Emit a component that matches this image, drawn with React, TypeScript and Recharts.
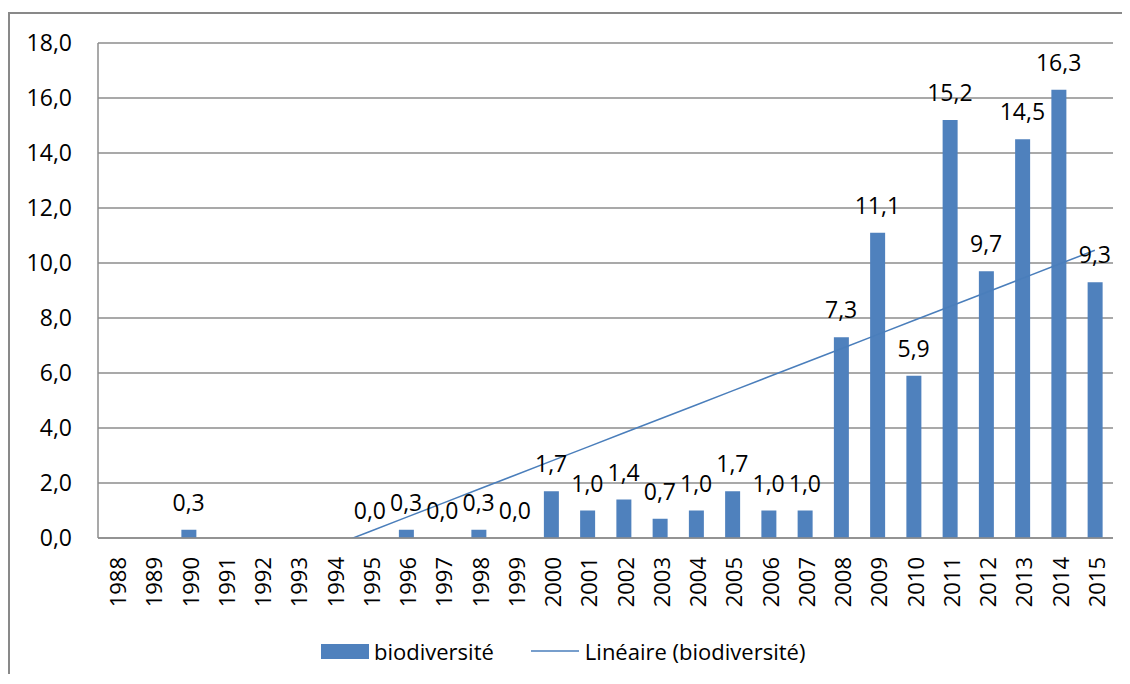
import React from 'react';
import {
  ComposedChart,
  Bar,
  Line,
  XAxis,
  YAxis,
  CartesianGrid,
  LabelList,
  Legend,
} from 'recharts';

const FONT = '"Open Sans", "DejaVu Sans", sans-serif';
const BAR_COLOR = '#4F81BD';
const LINE_COLOR = '#4A7EBB';
const GRID_COLOR = '#8C8C8C';
const NUM_SIZE = 23;

const years = [
  '1988', '1989', '1990', '1991', '1992', '1993', '1994', '1995', '1996', '1997',
  '1998', '1999', '2000', '2001', '2002', '2003', '2004', '2005', '2006', '2007',
  '2008', '2009', '2010', '2011', '2012', '2013', '2014', '2015',
];

const biodiversite: (number | null)[] = [
  null, null, 0.3, null, null, null, null, 0.0, 0.3, 0.0,
  0.3, 0.0, 1.7, 1.0, 1.4, 0.7, 1.0, 1.7, 1.0, 1.0,
  7.3, 11.1, 5.9, 15.2, 9.7, 14.5, 16.3, 9.3,
];

const yTicks = [0, 2, 4, 6, 8, 10, 12, 14, 16, 18];

// Linear trend line (least squares, x = 1..n, blanks counted as zero, like the spreadsheet)
const n = years.length;
const xs = years.map((_, i) => i + 1);
const ys = biodiversite.map((v) => (v == null ? 0 : v));
const meanX = xs.reduce((a, b) => a + b, 0) / n;
const meanY = ys.reduce((a, b) => a + b, 0) / n;
const sxy = xs.reduce((acc, x, i) => acc + (x - meanX) * (ys[i] - meanY), 0);
const sxx = xs.reduce((acc, x) => acc + (x - meanX) * (x - meanX), 0);
const slope = sxy / sxx;
const intercept = meanY - slope * meanX;

const data = years.map((year, i) => ({
  year,
  value: biodiversite[i],
  trend: slope * xs[i] + intercept,
}));

const fmt = (v: number) => v.toFixed(1).replace('.', ',');

const XTick = (props: any) => {
  const { x, y, payload } = props;
  const ty = y + 19;
  return (
    <text
      x={x + 1}
      y={ty}
      transform={`rotate(-90 ${x + 1} ${ty})`}
      textAnchor="end"
      dominantBaseline="central"
      fontFamily={FONT}
      fontSize={22}
      fill="#000"
    >
      {payload.value}
    </text>
  );
};

const PointLabel = (props: any) => {
  const { x, y, value } = props;
  if (value == null || x == null || y == null) return null;
  return (
    <text
      x={x}
      y={y - 19}
      textAnchor="middle"
      fontFamily={FONT}
      fontSize={NUM_SIZE}
      fill="#000"
    >
      {fmt(Number(value))}
    </text>
  );
};

const renderLegend = () => (
  <div style={{ height: 64, position: 'relative', fontFamily: FONT, fontSize: 22, color: '#000' }}>
    <div
      style={{
        position: 'absolute',
        top: 26,
        left: 311,
        display: 'flex',
        alignItems: 'center',
        height: 30,
        whiteSpace: 'nowrap',
      }}
    >
      <span style={{ display: 'inline-block', width: 48, height: 15, background: BAR_COLOR }} />
      <span style={{ marginLeft: 5, lineHeight: '30px' }}>biodiversité</span>
      <svg width={48} height={6} style={{ marginLeft: 37 }}>
        <line x1={0} y1={3} x2={48} y2={3} stroke={LINE_COLOR} strokeWidth={1.5} />
      </svg>
      <span style={{ marginLeft: 6, lineHeight: '30px' }}>Linéaire (biodiversité)</span>
    </div>
  </div>
);

export default function App() {
  return (
    <div style={{ paddingTop: 4 }}>
      <div
        style={{
          borderTop: '2px solid #898989',
          borderLeft: '2px solid #898989',
          width: 1112,
          height: 660,
          background: '#fff',
        }}
      >
        <ComposedChart
          width={1112}
          height={660}
          data={data}
          margin={{ top: 29, right: 9, left: 0, bottom: 0 }}
          barCategoryGap="30%"
        >
          <CartesianGrid vertical={false} stroke={GRID_COLOR} strokeWidth={1.5} />
          <XAxis
            dataKey="year"
            interval={0}
            height={72}
            tickLine={false}
            tickSize={0}
            tickMargin={0}
            axisLine={{ stroke: GRID_COLOR, strokeWidth: 1.5 }}
            tick={<XTick />}
          />
          <YAxis
            width={88}
            domain={[0, 18]}
            allowDataOverflow
            ticks={yTicks}
            interval={0}
            tickLine={false}
            tickSize={0}
            tickMargin={26}
            axisLine={{ stroke: GRID_COLOR, strokeWidth: 1.5 }}
            tickFormatter={fmt}
            tick={{ fontFamily: FONT, fontSize: NUM_SIZE, fill: '#000' }}
          />
          <Legend verticalAlign="bottom" content={renderLegend} wrapperStyle={{ left: 0, width: 1112 }} />
          <Bar dataKey="value" name="biodiversité" fill={BAR_COLOR} isAnimationActive={false} />
          <Line
            dataKey="trend"
            name="Linéaire (biodiversité)"
            stroke={LINE_COLOR}
            strokeWidth={1.5}
            dot={false}
            activeDot={false}
            type="linear"
            isAnimationActive={false}
          />
          <Line
            dataKey="value"
            legendType="none"
            stroke="none"
            dot={false}
            activeDot={false}
            isAnimationActive={false}
          >
            <LabelList dataKey="value" content={<PointLabel />} />
          </Line>
        </ComposedChart>
      </div>
    </div>
  );
}
